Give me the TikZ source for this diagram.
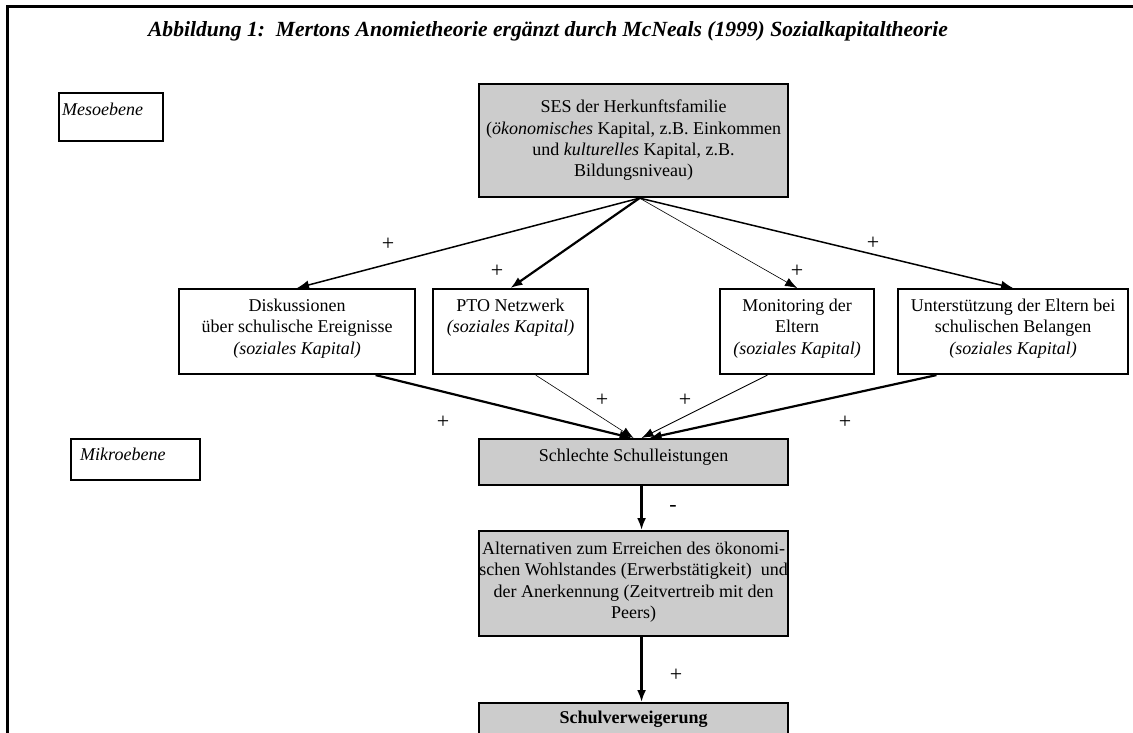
\documentclass[tikz,border=0pt]{standalone}
\usepackage{fontspec}
\setmainfont{Liberation Serif}
\usetikzlibrary{arrows.meta,calc}
\definecolor{boxgrey}{RGB}{204,204,204}
\begin{document}
\begin{tikzpicture}[x=1pt,y=-1pt,
  every node/.style={font=\fontsize{18}{21.3}\selectfont, inner sep=0pt},
  box/.style={draw, line width=2.1pt, anchor=north west, inner sep=0pt},
  greybox/.style={box, fill=boxgrey},
  lbl/.style={anchor=north, align=center},
  tip/.style={-{Latex[length=12pt,width=9pt]}},
  heavy/.style={tip, line width=2.2pt},
  medium/.style={tip, line width=1.5pt},
  light/.style={tip, line width=0.6pt},
  sign/.style={font=\fontsize{22}{24}\selectfont},
]
\useasboundingbox (0,0) rectangle (1133,733);
\clip (0,0) rectangle (1133,733);

% outer frame (top and left edges)
\draw[line width=3pt] (7,760) -- (7,7) -- (1150,7);

% title
\node[font=\fontsize{21.6}{24}\selectfont] (title) at (548,31) {\bfseries\itshape Abbildung 1:~~Mertons Anomietheorie ergänzt durch McNeals (1999) Sozialkapitaltheorie};

% level labels
\node[box, minimum width=104pt, minimum height=48pt] (meso) at (58,92) {};
\node[anchor=north west] (mesotext) at ([xshift=4pt,yshift=-11pt]meso.north west) {\itshape Mesoebene};
\node[box, minimum width=129pt, minimum height=41pt] (mikro) at (70,438) {};
\node[anchor=north west] (mikrotext) at ([xshift=10pt,yshift=-10pt]mikro.north west) {\itshape Mikroebene};

% family background
\node[greybox, minimum width=309pt, minimum height=113pt] (ses) at (478,83) {};
\node[lbl] (sestext) at ([yshift=-17pt]ses.north) {SES der Herkunftsfamilie\\(\textit{ökonomisches} Kapital, z.B. Einkommen\\und \textit{kulturelles} Kapital, z.B.\\Bildungsniveau)};

% social capital boxes
\node[box, minimum width=236pt, minimum height=85pt] (disk) at (178,288) {};
\node[lbl] (disktext) at ([yshift=-11pt]disk.north) {Diskussionen\\über schulische Ereignisse\\\textit{(soziales Kapital)}};
\node[box, minimum width=155pt, minimum height=85pt] (pto) at (432,288) {};
\node[lbl] (ptotext) at ([yshift=-11pt]pto.north) {PTO Netzwerk\\\textit{(soziales Kapital)}};
\node[box, minimum width=154pt, minimum height=85pt] (moni) at (719,288) {};
\node[lbl] (monitext) at ([yshift=-11pt]moni.north) {Monitoring der\\Eltern\\\textit{(soziales Kapital)}};
\node[box, minimum width=230pt, minimum height=85pt] (unter) at (897,288) {};
\node[lbl] (untertext) at ([yshift=-11pt]unter.north) {Unterstützung der Eltern bei\\schulischen Belangen\\\textit{(soziales Kapital)}};

% outcome chain
\node[greybox, minimum width=309pt, minimum height=46pt] (schl) at (478,438) {};
\node[lbl] (schltext) at ([yshift=-11pt]schl.north) {Schlechte Schulleistungen};
\node[greybox, minimum width=309pt, minimum height=105pt] (alt) at (478,530) {};
\node[lbl] (alttext) at ([yshift=-12pt]alt.north) {Alternativen zum Erreichen des ökonomi-\\schen Wohlstandes (Erwerbstätigkeit)~~und\\der Anerkennung (Zeitvertreib mit den\\Peers)};
\node[greybox, minimum width=309pt, minimum height=50pt] (verw) at (478,702) {};
\node[lbl] (verwtext) at ([yshift=-9pt]verw.north) {\bfseries Schulverweigerung};

% connector end points
\coordinate (sesout) at ([xshift=6pt]ses.south);
\coordinate (diskout) at ($(disk.south west)!0.83!(disk.south east)$);
\coordinate (ptoout) at ($(pto.south west)!0.66!(pto.south east)$);
\coordinate (moniout) at ($(moni.south west)!0.31!(moni.south east)$);
\coordinate (unterout) at ($(unter.south west)!0.17!(unter.south east)$);

% SES -> social capital
\draw[medium] (sesout) -- (disk.north);
\draw[heavy] (sesout) -- (pto.north);
\draw[light] (sesout) -- (moni.north);
\draw[medium] (sesout) -- (unter.north);

% social capital -> school performance
\draw[heavy] (diskout) -- ([xshift=-2pt]schl.north);
\draw[light] (ptoout) -- ([xshift=0pt]schl.north);
\draw[tip, line width=0.9pt] (moniout) -- ([xshift=8pt]schl.north);
\draw[heavy] (unterout) -- ([xshift=16pt]schl.north);

% vertical chain
\draw[heavy] ([xshift=8pt]schl.south) -- ([xshift=8pt]alt.north);
\draw[heavy] ([xshift=8pt]alt.south) -- ([xshift=8pt]verw.north);

% signs
\node[sign] (s1) at (388,244) {+};
\node[sign] (s2) at (497,271) {+};
\node[sign] (s3) at (797,271) {+};
\node[sign] (s4) at (873,243) {+};
\node[sign] (s5) at (443,422) {+};
\node[sign] (s6) at (602,400) {+};
\node[sign] (s7) at (685,400) {+};
\node[sign] (s8) at (845,422) {+};
\node[sign] (s9) at (673,508) {-};
\node[sign] (s10) at (676,675) {+};
\end{tikzpicture}
\end{document}
